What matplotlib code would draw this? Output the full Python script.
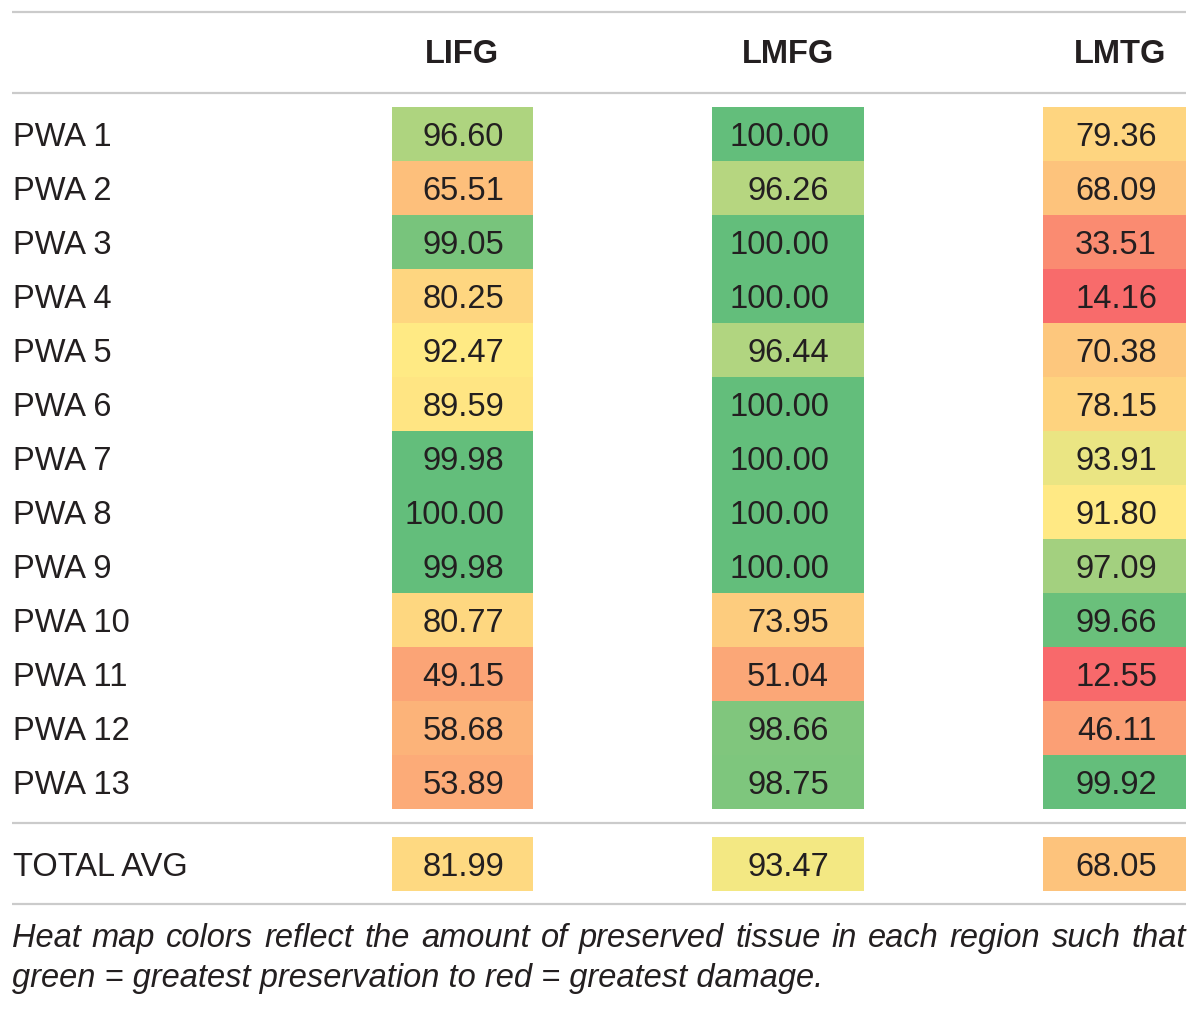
import numpy as np
import matplotlib
matplotlib.use("Agg")
import matplotlib.pyplot as plt
from matplotlib.colors import LinearSegmentedColormap, TwoSlopeNorm

# ---- data ----
regions = ["LIFG", "LMFG", "LMTG"]
patients = ["PWA 1", "PWA 2", "PWA 3", "PWA 4", "PWA 5", "PWA 6", "PWA 7",
            "PWA 8", "PWA 9", "PWA 10", "PWA 11", "PWA 12", "PWA 13"]
lifg = [96.60, 65.51, 99.05, 80.25, 92.47, 89.59, 99.98, 100.00, 99.98, 80.77, 49.15, 58.68, 53.89]
lmfg = [100.00, 96.26, 100.00, 100.00, 96.44, 100.00, 100.00, 100.00, 100.00, 73.95, 51.04, 98.66, 98.75]
lmtg = [79.36, 68.09, 33.51, 14.16, 70.38, 78.15, 93.91, 91.80, 97.09, 99.66, 12.55, 46.11, 99.92]
total_label = "TOTAL AVG"
total_avg = [81.99, 93.47, 68.05]
caption_line1 = "Heat map colors reflect the amount of preserved tissue in each region such that"
caption_line2 = "green = greatest preservation to red = greatest damage."

# ---- layout (pixels) ----
W, H = 1200, 1009
FONT = "Liberation Sans"
TXT = "#231F20"
LINE = "#CBCBCB"
col_left = [392, 712, 1043]
col_right = [533, 864, 1186]
text_right = [504, 829, 1157]
header_x = [462, 788, 1120]
row_top, row_h = 107, 54
total_top, total_h = 837, 54
fs = 23.5
base_off = 12  # baseline offset below cell centre

fig = plt.figure(figsize=(W / 100, H / 100), dpi=100)
ax = fig.add_axes([0, 0, 1, 1])
ax.set_xlim(0, W)
ax.set_ylim(H, 0)
ax.axis("off")

cmap = LinearSegmentedColormap.from_list("excel3", ["#F8696B", "#FFEB84", "#63BE7B"])
allvals = np.array(lifg + lmfg + lmtg + total_avg)
norm = TwoSlopeNorm(vmin=allvals.min(), vcenter=np.median(allvals), vmax=allvals.max())

# horizontal rules
for y in (12, 93, 823, 904):
    ax.plot([12, 1186], [y, y], color=LINE, lw=1.6, solid_capstyle="butt")

# headers
for name, x in zip(regions, header_x):
    ax.text(x, 63, name, ha="center", va="baseline", fontsize=fs, fontweight="bold",
            family=FONT, color=TXT)

# row labels
n = len(patients)
ycent = row_top + row_h * (np.arange(n) + 0.5)
for lab, y in zip(patients, ycent):
    ax.text(13, y + base_off, lab, ha="left", va="baseline", fontsize=fs, family=FONT, color=TXT)
ax.text(13, total_top + total_h / 2 + base_off, total_label, ha="left", va="baseline",
        fontsize=fs, family=FONT, color=TXT)

# cells
yedges = row_top + row_h * np.arange(n + 1)
for j, vals in enumerate([lifg, lmfg, lmtg]):
    arr = np.array(vals)[:, None]
    ax.pcolormesh([col_left[j], col_right[j]], yedges, arr, cmap=cmap, norm=norm,
                  shading="flat")
    for v, y in zip(vals, ycent):
        ax.text(text_right[j], y + base_off, f"{v:.2f}", ha="right", va="baseline",
                fontsize=fs, family=FONT, color=TXT)
    ax.pcolormesh([col_left[j], col_right[j]], [total_top, total_top + total_h],
                  np.array([[total_avg[j]]]), cmap=cmap, norm=norm, shading="flat")
    ax.text(text_right[j], total_top + total_h / 2 + base_off, f"{total_avg[j]:.2f}",
            ha="right", va="baseline", fontsize=fs, family=FONT, color=TXT)

# caption: line 1 justified between x=12 and x=1186
cfs = 23.5
fig.canvas.draw()
renderer = fig.canvas.get_renderer()
words = caption_line1.split(" ")
tmp = [ax.text(0, 0, w, fontsize=cfs, family=FONT, style="italic") for w in words]
widths = []
for t in tmp:
    bb = t.get_window_extent(renderer=renderer)
    widths.append(bb.width)
    t.remove()
gap = (1186 - 12 - sum(widths)) / (len(words) - 1)
x = 12
for w, wd in zip(words, widths):
    ax.text(x, 947, w, ha="left", va="baseline", fontsize=cfs, family=FONT,
            style="italic", color=TXT)
    x += wd + gap
ax.text(12, 987, caption_line2, ha="left", va="baseline", fontsize=cfs, family=FONT,
        style="italic", color=TXT)

fig.savefig("out.png", dpi=100)
